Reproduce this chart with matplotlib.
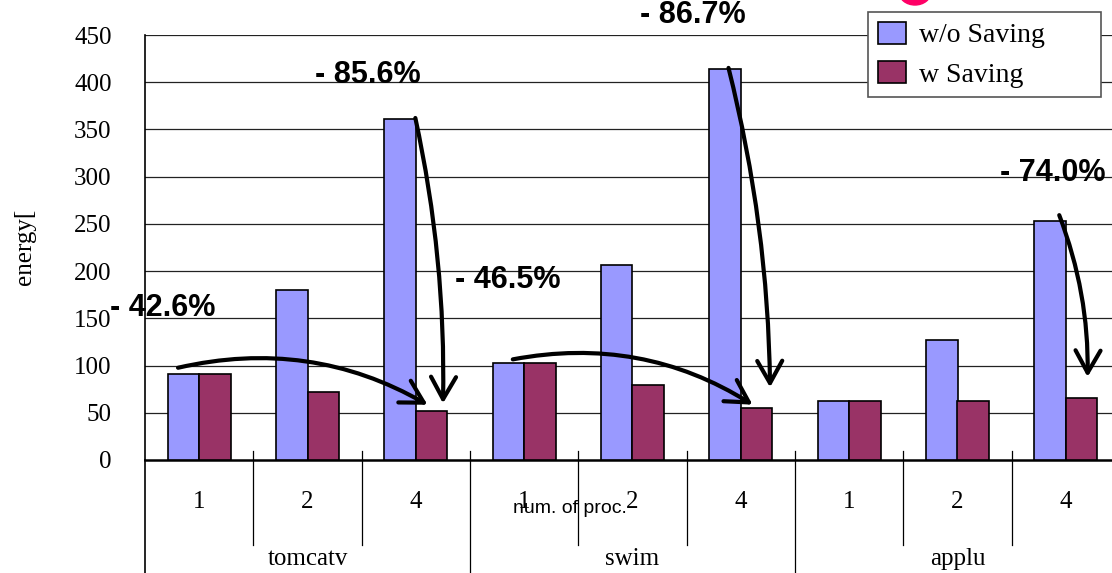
import matplotlib
matplotlib.use('Agg')
import matplotlib.pyplot as plt
from matplotlib.patches import Patch, FancyArrowPatch, Ellipse

groups = ['tomcatv', 'swim', 'applu']
procs = ['1', '2', '4']
wo_saving = [90.6, 180, 361, 102.8, 206, 414, 63, 127, 253]
w_saving = [90.6, 72, 52, 102.8, 79, 55, 63, 63, 65.8]
yticks = [0, 50, 100, 150, 200, 250, 300, 350, 400, 450]

# reduction labels: text, position, arrow start, arrow end, curvature
reductions = [
    ('- 42.6%', (-0.82, 161), (-0.22, 97), (2.13, 57), -0.2),
    ('- 85.6%', (1.07, 408), (1.99, 365), (2.25, 57), -0.06),
    ('- 46.5%', (2.36, 191), (2.87, 106), (5.13, 57), -0.2),
    ('- 86.7%', (4.07, 471), (4.88, 418), (5.27, 74), -0.06),
    ('- 74.0%', (7.39, 304), (7.93, 262), (8.2, 85), -0.1),
]

blue = '#9999ff'
red = '#993366'
serif = 'Liberation Serif'
sans = 'Liberation Sans'

fig = plt.figure(figsize=(11.12, 5.73), dpi=100)
ax = fig.add_axes([145 / 1112, 113 / 573, 975 / 1112, 425 / 573])

x = list(range(len(wo_saving)))
w = 0.29
ax.bar([i - w / 2 for i in x], wo_saving, w, color=blue, edgecolor='black', lw=1.2, zorder=3)
ax.bar([i + w / 2 for i in x], w_saving, w, color=red, edgecolor='black', lw=1.2, zorder=3)

ax.set_xlim(-0.5, len(x) - 0.5)
ax.set_ylim(0, 450)
ax.set_yticks(yticks)
ax.set_yticklabels([str(v) for v in yticks], fontfamily=serif, fontsize=18)
ax.tick_params(axis='y', length=0, pad=24)
ax.set_xticks([])
for v in yticks[1:]:
    ax.axhline(v, color='#222222', lw=0.9, zorder=1)

for s in ['top', 'right']:
    ax.spines[s].set_visible(False)
ax.spines['left'].set_linewidth(1.2)
ax.spines['bottom'].set_linewidth(1.8)

# two-level category axis
for i in x:
    ax.text(i, -0.099, procs[i % 3], transform=ax.get_xaxis_transform(),
            ha='center', va='center', fontfamily=serif, fontsize=18)
for g, name in enumerate(groups):
    ax.text(3 * g + 1, -0.232, name, transform=ax.get_xaxis_transform(),
            ha='center', va='center', fontfamily=serif, fontsize=18)
for i in range(1, len(x)):
    bottom = -0.266 if i % 3 == 0 else -0.2
    ax.plot([i - 0.5, i - 0.5], [0.021, bottom], color='black', lw=0.9,
            transform=ax.get_xaxis_transform(), clip_on=False)
ax.plot([-0.5, -0.5], [0, -0.266], color='black', lw=1.2,
        transform=ax.get_xaxis_transform(), clip_on=False)

ax.text(3.42, -0.113, 'num. of proc.', transform=ax.get_xaxis_transform(),
        ha='center', va='center', fontsize=14, fontfamily=sans, zorder=5)

fig.text(25 / 1112, 1 - 247 / 573, 'energy[', rotation=90, ha='center',
         va='center', fontfamily=serif, fontsize=18)

for label, pos, start, end, rad in reductions:
    ax.text(pos[0], pos[1], label, ha='left', va='center', fontfamily=sans,
            fontweight='bold', fontsize=22, clip_on=False, zorder=6)
    arrow = FancyArrowPatch(start, end, connectionstyle=f'arc3,rad={rad}',
                            arrowstyle='->,head_length=0.8,head_width=0.45',
                            mutation_scale=20, lw=3, color='black', zorder=6)
    ax.add_patch(arrow)

handles = [Patch(facecolor=blue, edgecolor='black', lw=1.2),
           Patch(facecolor=red, edgecolor='black', lw=1.2)]
leg = ax.legend(handles, ['w/o Saving', 'w Saving'], loc='upper left',
                bbox_to_anchor=(868 / 1112, 1 - 100 / 573, 233 / 1112, 88 / 573),
                bbox_transform=fig.transFigure, borderaxespad=0, mode='expand',
                fancybox=False, framealpha=1, edgecolor='#555555',
                prop={'family': serif, 'size': 20}, handlelength=1.0,
                handleheight=0.85, handletextpad=0.5, labelspacing=0.45,
                borderpad=0.35)
leg.get_frame().set_linewidth(1.2)
leg.set_zorder(7)

fig.patches.append(Ellipse((915 / 1112, 1 + 8 / 573), 32 / 1112, 26 / 573,
                           transform=fig.transFigure, color='#ff0066'))

fig.savefig('out.png', dpi=100)
